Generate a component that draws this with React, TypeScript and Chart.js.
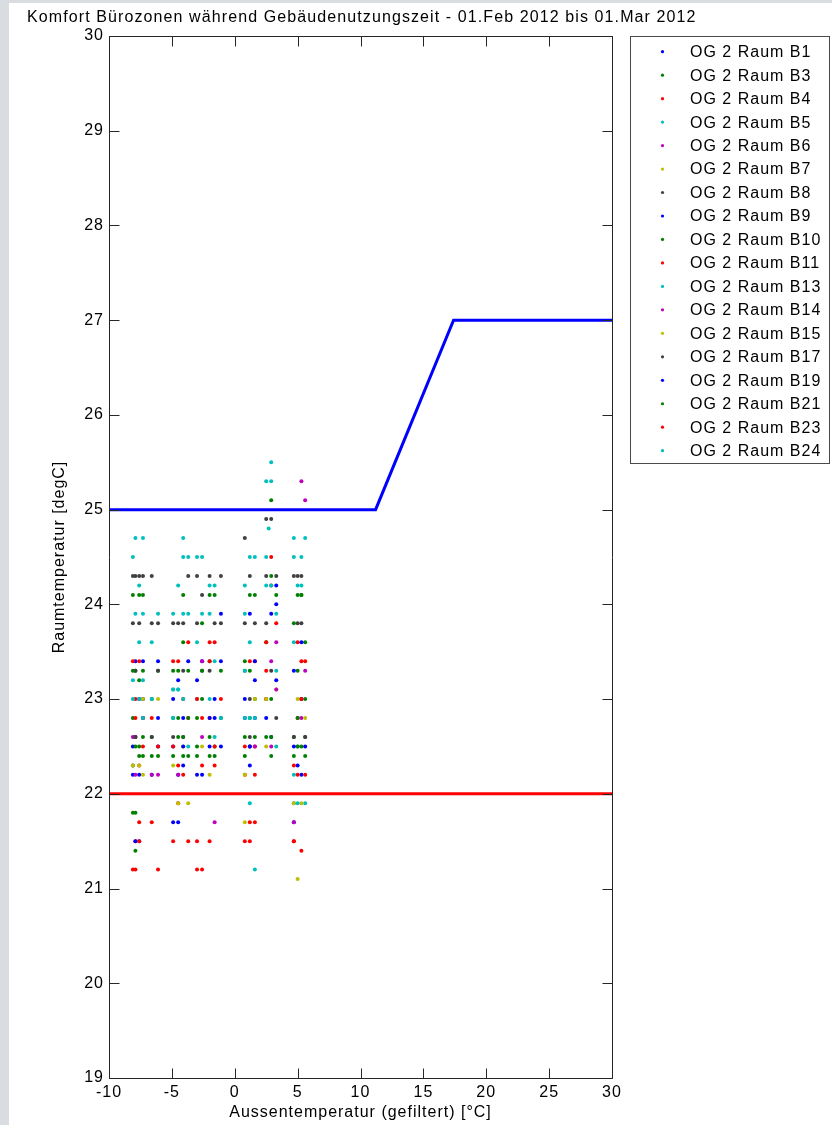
import React, { useEffect, useRef } from "react";
import { Chart, registerables } from "chart.js";

Chart.register(...registerables);

const TITLE = "Komfort Bürozonen während Gebäudenutzungszeit - 01.Feb 2012 bis 01.Mar 2012";
const X_TITLE = "Aussentemperatur (gefiltert) [°C]";
const Y_TITLE = "Raumtemperatur [degC]";

const X_MIN = -10;
const X_MAX = 30;
const X_STEP = 5;
const Y_MIN = 19;
const Y_MAX = 30;
const Y_STEP = 1;

const ROOMS = [
  "OG 2 Raum B1", "OG 2 Raum B3", "OG 2 Raum B4", "OG 2 Raum B5", "OG 2 Raum B6",
  "OG 2 Raum B7", "OG 2 Raum B8", "OG 2 Raum B9", "OG 2 Raum B10", "OG 2 Raum B11",
  "OG 2 Raum B13", "OG 2 Raum B14", "OG 2 Raum B15", "OG 2 Raum B17", "OG 2 Raum B19",
  "OG 2 Raum B21", "OG 2 Raum B23", "OG 2 Raum B24",
];

// [outdoor temperature (filtered), room temperature]
const B1: [number, number][] = [
  [-7.9, 23.4], [-7.6, 23.0], [-8.1, 22.2], [-7.6, 21.5], [-7.3, 22.8], [-4.5, 22.2], [-4.1, 22.8],
  [-3.7, 23.4], [-4.9, 21.7], [-2.6, 22.2], [-2.0, 22.5], [-1.6, 23.0], [-1.1, 23.4], [0.8, 23.0],
  [1.2, 22.3], [1.6, 22.8], [2.9, 23.9], [3.3, 23.2], [4.7, 21.7], [5.0, 22.3], [5.3, 23.0],
  [-6.1, 22.5], [-4.5, 23.2], [-7.3, 23.0], [-2.6, 23.4], [1.2, 23.9], [5.6, 22.5], [-6.6, 22.2],
];
const B3: [number, number][] = [
  [-8.1, 24.1], [-7.9, 23.3], [-7.6, 22.5], [-7.3, 22.4], [-8.1, 21.8], [-7.9, 21.4], [-6.6, 22.6],
  [-6.1, 23.3], [-4.9, 22.8], [-4.5, 22.6], [-4.1, 22.4], [-3.7, 23.3], [-3.0, 22.8], [-2.6, 23.8],
  [-2.0, 22.6], [-1.6, 24.1], [0.8, 22.4], [1.2, 23.3], [1.6, 24.1], [2.5, 23.0], [2.9, 25.1],
  [3.3, 24.1], [4.7, 22.6], [5.0, 23.3], [5.3, 24.1], [5.6, 22.4], [-7.6, 24.1], [-4.1, 24.1],
  [-2.0, 24.1], [0.8, 23.3], [2.9, 22.4], [5.6, 22.6],
];
const B4: [number, number][] = [
  [-8.1, 21.2], [-7.9, 21.5], [-7.6, 21.7], [-7.3, 22.8], [-8.1, 23.4], [-7.6, 22.3], [-6.6, 21.7],
  [-6.1, 22.5], [-4.9, 21.5], [-4.5, 21.9], [-4.1, 23.0], [-3.7, 22.8], [-3.0, 21.2], [-2.6, 22.3],
  [-2.0, 21.5], [-1.6, 23.6], [0.8, 21.5], [1.2, 21.7], [1.6, 22.5], [2.5, 23.0], [2.9, 24.2],
  [4.7, 21.5], [5.0, 22.8], [5.3, 23.4], [-7.9, 23.0], [-4.5, 23.4], [-2.0, 22.8], [1.6, 23.4],
  [5.6, 23.4],
];
const B5: [number, number][] = [
  [-8.1, 24.5], [-7.6, 24.2], [-7.9, 23.9], [-8.1, 23.2], [-7.3, 22.8], [-6.6, 23.6], [-4.9, 23.1],
  [-4.1, 24.5], [-3.7, 23.9], [-3.0, 23.0], [-2.0, 24.2], [-1.6, 23.4], [0.8, 24.2], [1.2, 23.6],
  [1.6, 21.2], [2.5, 24.5], [2.9, 25.5], [3.3, 23.3], [4.7, 23.6], [5.0, 22.5], [5.3, 24.5],
  [5.6, 21.9],
];
const B6: [number, number][] = [
  [-8.1, 22.6], [-7.9, 22.2], [-4.5, 22.2], [-2.6, 22.6], [1.6, 22.5], [2.9, 23.4], [3.3, 23.6],
  [5.3, 25.3], [5.6, 25.1], [4.7, 21.7], [5.3, 22.8], [-6.1, 22.2],
];
const B7: [number, number][] = [
  [-7.6, 22.3], [-7.3, 22.2], [-6.1, 23.0], [-4.1, 22.5], [-3.7, 21.9], [-2.0, 22.2], [0.8, 21.7],
  [2.5, 23.0], [5.0, 21.1], [5.3, 21.9], [5.6, 22.8], [-4.9, 22.3], [3.3, 23.1],
];
const B8: [number, number][] = [
  [-8.1, 24.3], [-7.6, 23.8], [-7.9, 23.3], [-7.3, 24.3], [-6.1, 23.3], [-6.6, 22.6], [-4.5, 23.8],
  [-3.7, 24.3], [-4.1, 23.3], [-3.0, 23.8], [-2.6, 24.1], [-2.0, 23.3], [-1.6, 23.8], [0.8, 24.7],
  [1.2, 24.3], [1.6, 23.8], [2.5, 24.9], [2.9, 23.3], [3.3, 24.3], [4.7, 24.3], [5.0, 23.8],
  [5.6, 22.6], [1.2, 22.6], [-7.9, 22.6], [-7.9, 24.3], [-4.9, 23.8], [-1.1, 24.3], [2.5, 23.8],
  [5.3, 24.3], [-6.6, 23.8],
];
const B9: [number, number][] = [
  [-7.3, 23.4], [-8.1, 22.5], [-6.1, 22.8], [-4.9, 23.0], [-4.1, 22.3], [-3.0, 23.2], [-1.6, 22.8],
  [-1.1, 23.9], [0.8, 22.8], [1.6, 23.4], [2.5, 22.8], [3.3, 24.2], [4.7, 23.3], [5.3, 22.2],
];
const B10: [number, number][] = [
  [-8.1, 22.8], [-7.6, 23.2], [-7.3, 24.1], [-6.6, 23.0], [-6.1, 22.4], [-4.9, 23.3], [-4.5, 22.8],
  [-4.1, 23.6], [-3.0, 22.5], [-2.6, 23.0], [-2.0, 23.4], [-1.6, 22.5], [-1.1, 22.8], [0.8, 23.4],
  [1.2, 22.8], [1.6, 23.0], [2.5, 23.6], [2.9, 24.3], [4.7, 23.8], [5.0, 24.1], [5.3, 22.5],
  [5.6, 23.6], [-7.9, 22.5], [-3.7, 22.8], [1.2, 22.5], [5.0, 22.5],
];
const B11: [number, number][] = [
  [-7.9, 22.8], [-7.6, 23.4], [-8.1, 22.3], [-6.6, 22.8], [-4.9, 23.4], [-4.5, 22.3], [-3.7, 23.6],
  [-3.0, 21.5], [-2.6, 22.8], [-2.0, 23.4], [-1.6, 22.3], [0.8, 22.2], [1.2, 23.4], [1.6, 22.2],
  [2.5, 23.6], [3.3, 23.8], [4.7, 22.3], [5.0, 23.6], [5.3, 21.4],
];
const B13: [number, number][] = [
  [-7.3, 24.7], [-7.6, 23.0], [-8.1, 22.3], [-6.1, 23.9], [-4.9, 22.8], [-4.5, 23.1], [-4.1, 24.7],
  [-3.7, 22.5], [-3.0, 24.5], [-2.0, 23.9], [-1.6, 22.6], [0.8, 23.3], [1.2, 24.5], [1.6, 22.8],
  [2.5, 25.3], [2.9, 24.2], [3.3, 22.5], [4.7, 22.2], [5.0, 24.2], [5.6, 24.7], [4.7, 21.9],
];
const B14: [number, number][] = [
  [-7.9, 22.6], [-6.6, 22.2], [-4.1, 22.6], [-1.6, 21.7], [1.2, 22.5], [2.9, 22.5], [3.3, 23.1],
  [5.6, 23.3], [-2.6, 23.4],
];
const B15: [number, number][] = [
  [-8.1, 22.3], [-4.5, 21.9], [-2.6, 22.5], [0.8, 22.2], [1.6, 23.0], [2.5, 22.5], [4.7, 21.9],
  [5.0, 23.0], [-7.3, 23.0],
];
const B17: [number, number][] = [
  [-8.1, 23.8], [-7.6, 24.3], [-7.9, 22.6], [-6.6, 24.3], [-6.1, 23.8], [-4.9, 22.6], [-4.1, 23.8],
  [-3.0, 24.3], [-2.6, 23.3], [-2.0, 24.3], [-1.1, 23.8], [0.8, 23.8], [1.2, 23.0], [2.5, 24.3],
  [2.9, 24.9], [3.3, 22.8], [5.0, 24.3], [5.3, 23.8], [4.7, 22.6],
];
const B19: [number, number][] = [
  [-7.6, 22.2], [-7.9, 21.5], [-6.1, 23.4], [-4.9, 22.5], [-4.1, 22.5], [-3.0, 22.2], [-2.0, 22.8],
  [-1.1, 22.5], [1.2, 22.5], [1.6, 23.2], [2.9, 22.6], [3.3, 24.0], [4.7, 22.5], [5.3, 23.6],
  [-4.5, 21.7],
];
const B21: [number, number][] = [
  [-7.6, 22.4], [-8.1, 23.3], [-7.3, 23.3], [-6.6, 22.4], [-4.9, 22.4], [-4.5, 23.3], [-3.7, 22.4],
  [-3.0, 22.4], [-2.6, 23.3], [-1.6, 22.4], [-1.1, 23.3], [0.8, 22.6], [1.2, 24.1], [1.6, 22.6],
  [2.5, 22.6], [2.9, 23.0], [4.7, 22.4], [5.0, 22.8], [5.3, 24.1], [5.6, 23.0], [-7.9, 21.8],
  [-7.3, 22.6], [-4.1, 22.6], [-2.0, 22.4], [2.9, 22.6],
];
const B23: [number, number][] = [
  [-7.9, 21.2], [-7.6, 21.5], [-7.3, 22.5], [-6.1, 21.2], [-4.9, 22.5], [-4.1, 22.2], [-3.7, 21.5],
  [-3.0, 23.0], [-2.6, 21.2], [-2.0, 23.6], [-1.6, 22.5], [-1.1, 23.0], [0.8, 22.5], [1.2, 21.5],
  [1.6, 21.7], [2.5, 23.3], [2.9, 24.5], [4.7, 21.5], [5.0, 22.2], [5.3, 23.0], [5.6, 22.2],
];
const B24: [number, number][] = [
  [-8.1, 23.0], [-7.6, 23.6], [-7.9, 24.7], [-7.3, 23.2], [-6.6, 23.0], [-4.9, 23.9], [-4.5, 24.2],
  [-4.1, 23.0], [-3.7, 24.5], [-3.0, 23.6], [-2.6, 23.9], [-2.0, 23.0], [-1.6, 24.2], [-1.1, 22.8],
  [0.8, 23.9], [1.2, 22.8], [1.6, 24.5], [1.2, 21.9], [2.5, 24.2], [2.9, 25.3], [2.7, 24.8],
  [3.3, 23.9], [4.7, 24.5], [5.0, 21.9], [5.3, 24.2], [-7.3, 23.9], [-4.1, 23.9], [-2.6, 24.5],
  [0.8, 22.8], [4.7, 24.7], [-4.9, 23.1], [-4.5, 23.1],
];

const ROOM_DATA = [B1, B3, B4, B5, B6, B7, B8, B9, B10, B11, B13, B14, B15, B17, B19, B21, B23, B24];

// comfort limits
const UPPER_LIMIT_X = [-10, 11.2, 17.4, 30];
const UPPER_LIMIT_Y = [25, 25, 27, 27];
const LOWER_LIMIT_X = [-10, 30];
const LOWER_LIMIT_Y = [22, 22];

const COLOR_ORDER = ["#0000ff", "#008000", "#ff0000", "#00bfbf", "#bf00bf", "#bfbf00", "#404040"];

const FONT = "'Liberation Sans', Arial, Helvetica, sans-serif";
const W = 832;
const H = 1125;
const AREA_LEFT = 109;
const AREA_RIGHT = 612;
const AREA_TOP = 36;
const AREA_BOTTOM = 1078;

const framePlugin = {
  id: "matlabFrame",
  beforeDraw(chart: any) {
    const ctx = chart.ctx as CanvasRenderingContext2D;
    ctx.save();
    ctx.fillStyle = "#ffffff";
    ctx.fillRect(0, 0, W, H);
    ctx.fillStyle = "#d9dce1";
    ctx.fillRect(0, 0, 9, H);
    ctx.fillRect(0, 0, W, 3);
    ctx.restore();
    (ctx as any).letterSpacing = "1px";
  },
  afterDraw(chart: any) {
    const ctx = chart.ctx as CanvasRenderingContext2D;
    const a = chart.chartArea;
    const xs = chart.scales.x;
    const ys = chart.scales.y;
    const L = Math.round(a.left) + 0.5;
    const R = Math.round(a.right) + 0.5;
    const T = Math.round(a.top) + 0.5;
    const B = Math.round(a.bottom) + 0.5;
    const TL = 10;
    ctx.save();
    ctx.strokeStyle = "#262626";
    ctx.lineWidth = 1;
    ctx.beginPath();
    ctx.rect(L, T, R - L, B - T);
    xs.ticks.forEach((t: any) => {
      const px = Math.round(xs.getPixelForValue(t.value)) + 0.5;
      ctx.moveTo(px, B);
      ctx.lineTo(px, B - TL);
      ctx.moveTo(px, T);
      ctx.lineTo(px, T + TL);
    });
    ys.ticks.forEach((t: any) => {
      const py = Math.round(ys.getPixelForValue(t.value)) + 0.5;
      ctx.moveTo(L, py);
      ctx.lineTo(L + TL, py);
      ctx.moveTo(R, py);
      ctx.lineTo(R - TL, py);
    });
    ctx.stroke();

    // titles
    ctx.fillStyle = "#000000";
    ctx.font = `16px ${FONT}`;
    (ctx as any).letterSpacing = "1.1px";
    ctx.textAlign = "left";
    ctx.textBaseline = "alphabetic";
    ctx.fillText(TITLE, 27, 22);

    (ctx as any).letterSpacing = "1px";
    ctx.textAlign = "center";
    ctx.textBaseline = "middle";
    ctx.fillText(X_TITLE, (a.left + a.right) / 2, 1113);

    ctx.save();
    ctx.translate(60, (a.top + a.bottom) / 2);
    ctx.rotate(-Math.PI / 2);
    ctx.fillText(Y_TITLE, 0, 0);
    ctx.restore();

    // legend
    const rooms = chart.data.datasets.filter((d: any) => d.isRoom);
    const boxL = 630.5;
    const boxT = 36.5;
    const boxR = 829.5;
    const boxB = 463.5;
    ctx.fillStyle = "#ffffff";
    ctx.fillRect(boxL, boxT, boxR - boxL, boxB - boxT);
    ctx.strokeStyle = "#4a4a4a";
    ctx.strokeRect(boxL, boxT, boxR - boxL, boxB - boxT);
    ctx.textAlign = "left";
    ctx.textBaseline = "middle";
    rooms.forEach((d: any, i: number) => {
      const cy = 51.7 + i * 23.47;
      ctx.fillStyle = d.backgroundColor;
      ctx.beginPath();
      ctx.arc(662.5, cy, 1.6, 0, Math.PI * 2);
      ctx.fill();
      ctx.fillStyle = "#000000";
      ctx.fillText(d.label, 690, cy + 1);
    });
    ctx.restore();
  },
};

export default function App() {
  const ref = useRef<HTMLCanvasElement | null>(null);

  useEffect(() => {
    if (!ref.current) return;
    const roomSets = ROOMS.map((name, i) => ({
      type: "scatter" as const,
      label: name,
      isRoom: true,
      data: ROOM_DATA[i].map(([x, y]) => ({ x, y })),
      backgroundColor: COLOR_ORDER[i % COLOR_ORDER.length],
      borderWidth: 0,
      pointRadius: 2,
      pointHoverRadius: 2,
      order: 100 - i,
    }));
    const limitSets = [
      {
        type: "line" as const,
        label: "",
        data: UPPER_LIMIT_X.map((x, i) => ({ x, y: UPPER_LIMIT_Y[i] })),
        borderColor: "#0000ff",
        backgroundColor: "#0000ff",
        borderWidth: 3,
        pointRadius: 0,
        tension: 0,
        fill: false,
        order: 1,
      },
      {
        type: "line" as const,
        label: "",
        data: LOWER_LIMIT_X.map((x, i) => ({ x, y: LOWER_LIMIT_Y[i] })),
        borderColor: "#ff0000",
        backgroundColor: "#ff0000",
        borderWidth: 3,
        pointRadius: 0,
        tension: 0,
        fill: false,
        order: 0,
      },
    ];

    const chart = new Chart(ref.current, {
      type: "scatter",
      data: { datasets: [...roomSets, ...limitSets] as any },
      options: {
        responsive: false,
        devicePixelRatio: 1,
        animation: false,
        events: [],
        layout: {
          padding: { left: 0, top: AREA_TOP, right: W - AREA_RIGHT, bottom: 0 },
        },
        plugins: {
          legend: { display: false },
          tooltip: { enabled: false },
          title: { display: false },
        },
        scales: {
          x: {
            type: "linear",
            position: "bottom",
            min: X_MIN,
            max: X_MAX,
            grid: { display: false, drawTicks: false },
            border: { display: false },
            ticks: {
              stepSize: X_STEP,
              padding: 5,
              color: "#000000",
              font: { family: FONT, size: 16 },
              maxRotation: 0,
              autoSkip: false,
            },
            afterFit: (s: any) => {
              s.height = H - AREA_BOTTOM;
            },
          },
          y: {
            type: "linear",
            position: "left",
            min: Y_MIN,
            max: Y_MAX,
            grid: { display: false, drawTicks: false },
            border: { display: false },
            ticks: {
              stepSize: Y_STEP,
              padding: 5,
              color: "#000000",
              font: { family: FONT, size: 16 },
              autoSkip: false,
            },
            afterFit: (s: any) => {
              s.width = AREA_LEFT;
            },
          },
        },
      },
      plugins: [framePlugin],
    });
    return () => chart.destroy();
  }, []);

  return (
    <div style={{ position: "absolute", left: 0, top: 0, width: W, height: H }}>
      <canvas ref={ref} width={W} height={H} style={{ display: "block", width: W, height: H }} />
    </div>
  );
}
